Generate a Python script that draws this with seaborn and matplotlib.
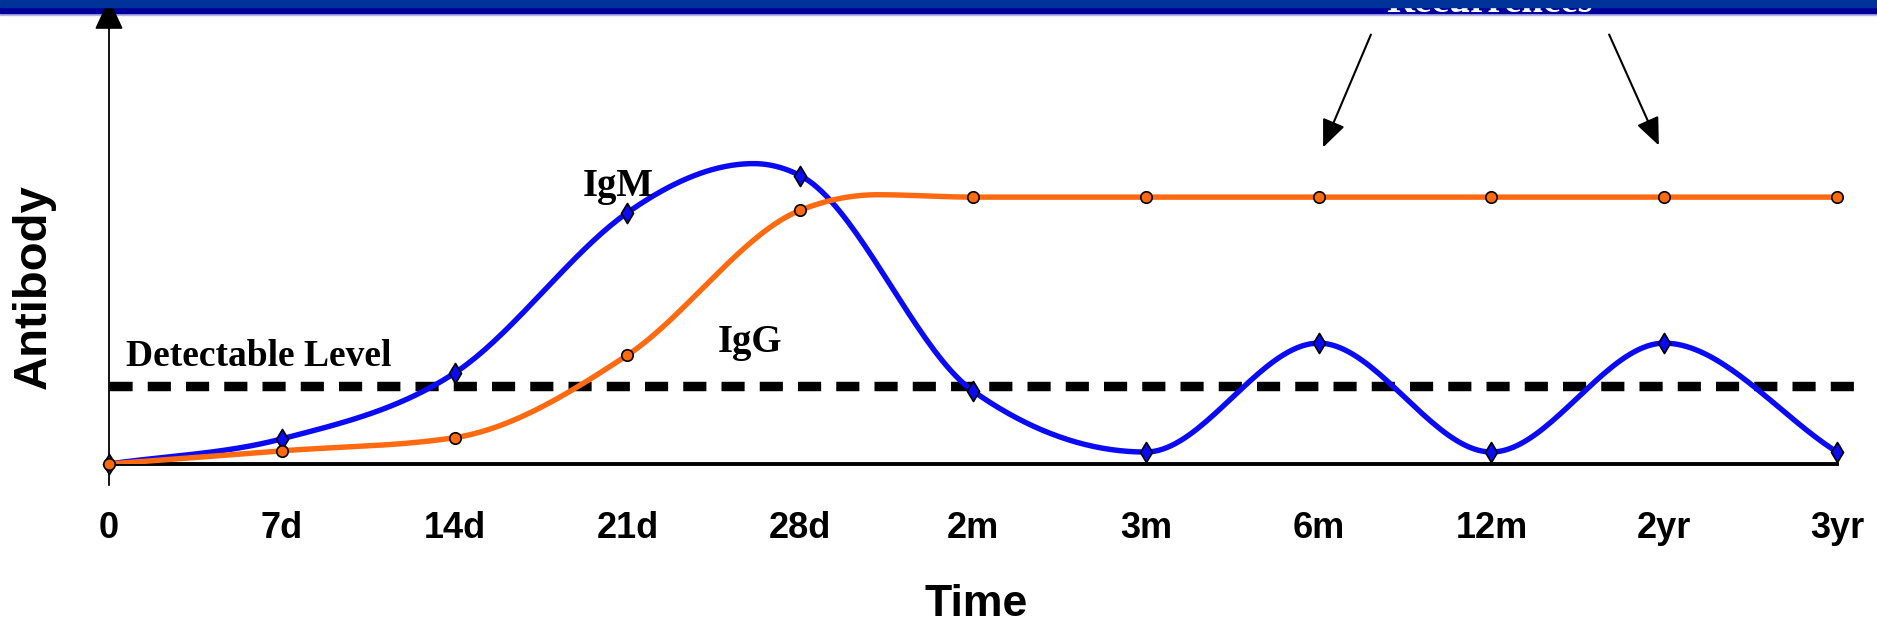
import numpy as np
import pandas as pd
import matplotlib.pyplot as plt
import seaborn as sns
from matplotlib.patches import Rectangle

# values (antibody in arbitrary units, baseline = 0)
time_labels = ['0', '7d', '14d', '21d', '28d', '2m', '3m', '6m', '12m', '2yr', '3yr']
igm_marks = [0, 21, 76, 210, 241, 61, 10, 101, 10, 101, 10]
igg_marks = [0, 11, 22, 91, 212, 223, 223, 223, 223, 223, 223]
# extra points
igm_peak = (3.73, 251)
igg_bend = (4.45, 225)
detect_level = 65

blue = '#0a0af5'
orange = '#ff6a10'


def smooth_curve(xs, ys, n=40):
    # cubic hermite, central slopes limited so it doesn't overshoot
    xs = np.asarray(xs, float)
    ys = np.asarray(ys, float)
    h = np.diff(xs)
    d = np.diff(ys) / h
    m = np.zeros_like(ys)
    m[0], m[-1] = d[0], d[-1]
    for i in range(1, len(ys) - 1):
        if d[i - 1] * d[i] > 0:
            c = (ys[i + 1] - ys[i - 1]) / (xs[i + 1] - xs[i - 1])
            lim = 2 * min(abs(d[i - 1]), abs(d[i]))
            m[i] = np.sign(c) * min(abs(c), lim)
    out_x, out_y = [], []
    for i in range(len(xs) - 1):
        t = np.linspace(0, 1, n, endpoint=(i == len(xs) - 2))
        h00 = 2 * t**3 - 3 * t**2 + 1
        h10 = t**3 - 2 * t**2 + t
        h01 = -2 * t**3 + 3 * t**2
        h11 = t**3 - t**2
        out_x.append(xs[i] + t * h[i])
        out_y.append(h00 * ys[i] + h10 * h[i] * m[i] + h01 * ys[i + 1] + h11 * h[i] * m[i + 1])
    return np.concatenate(out_x), np.concatenate(out_y)


pos = np.arange(len(time_labels), dtype=float)
igm_x, igm_y = smooth_curve(np.insert(pos, 4, igm_peak[0]), np.insert(igm_marks, 4, igm_peak[1]))
igg_x, igg_y = smooth_curve(np.insert(pos, 5, igg_bend[0]), np.insert(igg_marks, 5, igg_bend[1]))
curves = pd.concat([
    pd.DataFrame({'x': igm_x, 'y': igm_y, 'series': 'IgM'}),
    pd.DataFrame({'x': igg_x, 'y': igg_y, 'series': 'IgG'}),
])

sns.set_theme(style='white')
plt.rcParams['font.family'] = ['Liberation Sans', 'DejaVu Sans']
plt.rcParams['text.color'] = 'black'
plt.rcParams['xtick.color'] = 'black'

W, H = 1877, 626
fig = plt.figure(figsize=(W / 100, H / 100), dpi=100)
ax = fig.add_axes([109 / W, (H - 464) / H, (1837 - 109) / W, (464 - 14) / H])
ax.patch.set_visible(False)

sns.lineplot(data=curves, x='x', y='y', hue='series', palette={'IgM': blue, 'IgG': orange},
             sort=False, estimator=None, lw=3.9, legend=False, ax=ax, zorder=3)
ax.plot([0, 10.12], [detect_level, detect_level], color='black', lw=6.8,
        dashes=(2.45, 1.6), clip_on=False, zorder=2)
sns.scatterplot(x=pos, y=igm_marks, marker='d', color=blue, edgecolor='black',
                linewidth=1.2, s=105, clip_on=False, zorder=5, ax=ax)
sns.scatterplot(x=pos, y=igg_marks, marker='o', color=orange, edgecolor='black',
                linewidth=1.2, s=68, clip_on=False, zorder=5, ax=ax)

ax.set_xlim(0, 10)
ax.set_ylim(0, 376)
ax.set_xticks(pos)
ax.set_xticklabels(time_labels, fontsize=26, fontweight='bold')
ax.set_yticks([])
ax.tick_params(axis='x', direction='inout', length=15, width=1.6, pad=26, colors='black')
for s in ['top', 'right', 'left']:
    ax.spines[s].set_visible(False)
ax.spines['bottom'].set_linewidth(2.8)
ax.spines['bottom'].set_color('black')
ax.set_xlabel('')
ax.set_ylabel('')

# y axis with arrow head
ax.annotate('', xy=(0, 391), xytext=(0, -20), annotation_clip=False,
            arrowprops=dict(arrowstyle='-|>,head_length=0.97,head_width=0.45',
                            mutation_scale=20, lw=1.3, color='black'), zorder=4)

serif = ['Liberation Serif', 'DejaVu Serif']
ax.text(0.098, 82, 'Detectable Level', family=serif, fontweight='bold', fontsize=27, va='baseline')
ax.text(2.74, 224, 'IgM', family=serif, fontweight='bold', fontsize=28, va='baseline')
ax.text(3.52, 94, 'IgG', family=serif, fontweight='bold', fontsize=28, va='baseline')

fig.text(34 / W, 1 - 287 / H, 'Antibody', rotation=90, fontsize=34, fontweight='bold',
         ha='center', va='center')
fig.text(976 / W, 1 - 604 / H, 'Time', fontsize=32, fontweight='bold', ha='center', va='center')

# title band at the top
fig.add_artist(Rectangle((0, 1 - 14.5 / H), 1, 2 / H, transform=fig.transFigure,
                         color='#b4b4ea', zorder=-2))
fig.add_artist(Rectangle((0, 1 - 13 / H), 1, 6 / H, transform=fig.transFigure,
                         color='#000099', zorder=-1))
fig.text(1490 / W, 1 - 12 / H, 'Recurrences', family=serif, fontweight='bold', fontsize=28,
         color='white', ha='center', va='baseline', zorder=2)
fig.add_artist(Rectangle((0, 1 - 7 / H), 1, 7 / H, transform=fig.transFigure,
                         color='#003399', zorder=6))

for start, end in [((1372, H - 32), (1322, H - 150)), ((1608, H - 32), (1660, H - 148))]:
    fig.add_artist(plt.Annotation('', xy=end, xytext=start, xycoords='figure pixels',
                                  arrowprops=dict(arrowstyle='-|>,head_length=0.85,head_width=0.36',
                                                  mutation_scale=20, lw=1.5, color='black')))

fig.savefig('out.png', dpi=100)
